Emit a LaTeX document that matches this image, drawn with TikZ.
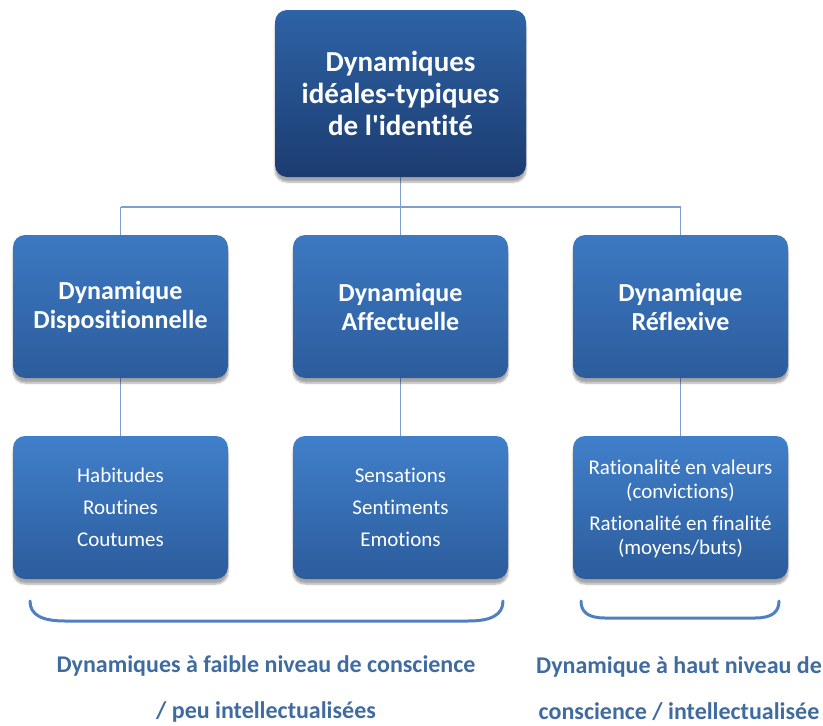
\documentclass[tikz,border=0pt]{standalone}
\usepackage{fontspec}
\setmainfont{Carlito}[Ligatures=CommonOff]
\usetikzlibrary{shadows.blur}
\definecolor{conn}{HTML}{7F9FD0}
\definecolor{lbl}{HTML}{3F6B9F}
\definecolor{brace}{HTML}{4F7FBE}
\definecolor{toptop}{RGB}{46,99,166}
\definecolor{topbot}{RGB}{28,60,112}
\definecolor{midtop}{RGB}{60,121,194}
\definecolor{midbot}{RGB}{44,92,156}
\definecolor{lowtop}{RGB}{64,128,202}
\definecolor{lowbot}{RGB}{44,92,156}
\tikzset{
  box/.style={rounded corners=12pt, draw=none, text=white, align=center,
    blur shadow={shadow xshift=0pt, shadow yshift=-5pt, shadow opacity=35, shadow blur steps=6}},
  topbox/.style={box, minimum width=251pt, minimum height=167pt, top color=toptop, bottom color=topbot,
    font=\bfseries\fontsize{29}{32}\selectfont},
  midbox/.style={box, minimum width=215pt, minimum height=143pt, top color=midtop, bottom color=midbot,
    font=\bfseries\fontsize{26}{29}\selectfont},
  lowbox/.style={box, minimum width=215pt, minimum height=143pt, top color=lowtop, bottom color=lowbot,
    font=\fontsize{21}{32}\selectfont},
  cline/.style={draw=conn, line width=1.3pt},
  bracepath/.style={draw=brace, line width=3pt, line cap=round},
  lab/.style={text=lbl, align=center, font=\bfseries\fontsize{24}{46}\selectfont}
}
\begin{document}
\begin{tikzpicture}[x=1pt,y=-1pt]
\useasboundingbox (0,0) rectangle (823,726);
% connectors first (behind boxes)
\coordinate (bus) at (400,207);
\coordinate (tc) at (400.5,93.5);
\coordinate (m1c) at (120.5,306.5);
\coordinate (m2c) at (400.5,306.5);
\coordinate (m3c) at (680.5,306.5);
\coordinate (b1c) at (120.5,507.5);
\coordinate (b2c) at (400.5,507.5);
\coordinate (b3c) at (680.5,507.5);
\draw[cline] (tc) -- (tc|-bus);
\draw[cline] (m1c|-bus) -- (m3c|-bus);
\draw[cline] (m1c|-bus) -- (m1c);
\draw[cline] (m2c|-bus) -- (m2c);
\draw[cline] (m3c|-bus) -- (m3c);
\draw[cline] (m1c) -- (b1c);
\draw[cline] (m2c) -- (b2c);
\draw[cline] (m3c) -- (b3c);
% boxes
\node[topbox] (top) at (tc) {Dynamiques\\idéales-typiques\\de l\textquotesingle identité};
\node[midbox] (m1) at (m1c) {Dynamique\\Dispositionnelle};
\node[midbox] (m2) at (m2c) {Dynamique\\Affectuelle};
\node[midbox] (m3) at (m3c) {Dynamique\\Réflexive};
\node[lowbox] (b1) at (b1c) {Habitudes\\Routines\\Coutumes};
\node[lowbox] (b2) at (b2c) {Sensations\\Sentiments\\Emotions};
\node[lowbox, font=\fontsize{21}{23.5}\selectfont] (b3) at (b3c) {\raisebox{-2.5pt}[\height][\depth]{\begin{tabular}{@{}c@{}}Rationalité en valeurs\\(convictions)\\[9pt]Rationalité en finalité\\(moyens/buts)\end{tabular}}};
% braces
\coordinate (l1) at (30,601);
\coordinate (l2) at (503,601);
\coordinate (r1) at (581,601);
\coordinate (r2) at (779,601);
\draw[bracepath] (l1) .. controls (30,615) and (42,621) .. (65,621) -- (468,621) .. controls (491,621) and (503,615) .. (l2);
\draw[bracepath] (r1) .. controls (581,612) and (588,618) .. (605,618) -- (755,618) .. controls (772,618) and (779,612) .. (r2);
% labels
\node[lab] (lab1) at (266,689) {Dynamiques à faible niveau de conscience\\/ peu intellectualisées};
\node[lab] (lab2) at (679,689) {Dynamique à haut niveau de\\conscience / intellectualisée};
\end{tikzpicture}
\end{document}
